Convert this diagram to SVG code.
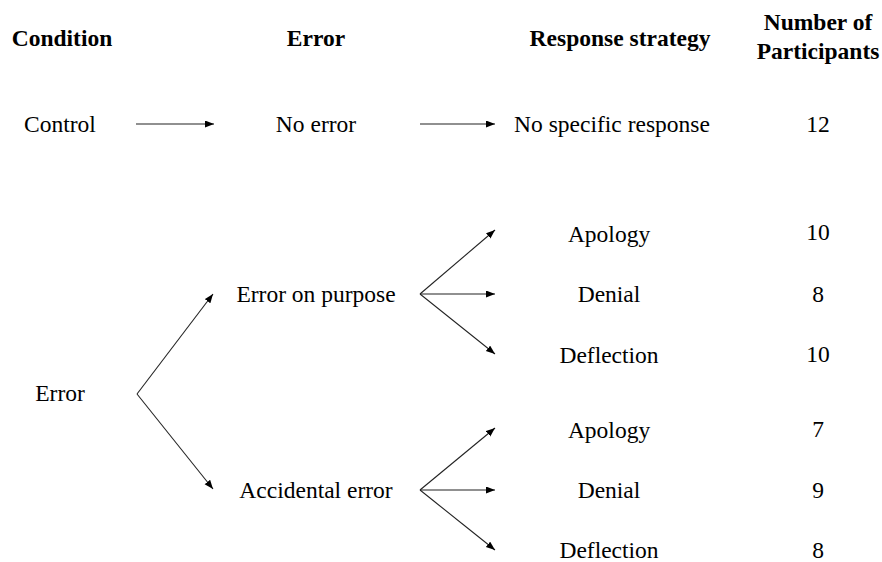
<svg xmlns="http://www.w3.org/2000/svg" width="882" height="562" viewBox="0 0 882 562">
<style>
text { font-family: 'Liberation Serif', 'Times New Roman', serif; font-size: 23.5px; fill: #000; text-anchor: middle; }
.h { font-weight: bold; }
.c line { stroke: #222; stroke-width: 1.1; marker-end: url(#ah); }
</style>
<defs>
<marker id="ah" markerUnits="userSpaceOnUse" markerWidth="10" markerHeight="8" refX="9" refY="3.5" orient="auto">
<path d="M0,0 L9,3.5 L0,7 z" fill="#000"/>
</marker>
</defs>
<rect width="882" height="562" fill="#fff"/>
<g id="headers">
<text class="h" x="62" y="46">Condition</text>
<text class="h" x="316" y="46">Error</text>
<text class="h" x="620" y="46">Response strategy</text>
<text class="h" x="818" y="30">Number of</text>
<text class="h" x="818" y="59">Participants</text>
</g>
<g id="control"><text x="60" y="132">Control</text></g>
<g id="no-error"><text x="316" y="132">No error</text></g>
<g id="no-specific"><text x="612" y="132">No specific response</text></g>
<g id="n-control"><text x="818" y="132">12</text></g>
<g id="error"><text x="60" y="401">Error</text></g>
<g id="error-on-purpose"><text x="316" y="302">Error on purpose</text></g>
<g id="accidental-error"><text x="316" y="498">Accidental error</text></g>
<g id="p-apology"><text x="609" y="242">Apology</text></g>
<g id="p-denial"><text x="609" y="302">Denial</text></g>
<g id="p-deflection"><text x="609" y="363">Deflection</text></g>
<g id="a-apology"><text x="609" y="438">Apology</text></g>
<g id="a-denial"><text x="609" y="498">Denial</text></g>
<g id="a-deflection"><text x="609" y="558">Deflection</text></g>
<g id="n-p-apology"><text x="818" y="240">10</text></g>
<g id="n-p-denial"><text x="818" y="302">8</text></g>
<g id="n-p-deflection"><text x="818" y="362">10</text></g>
<g id="n-a-apology"><text x="818" y="437">7</text></g>
<g id="n-a-denial"><text x="818" y="498">9</text></g>
<g id="n-a-deflection"><text x="818" y="558">8</text></g>
<g id="connectors" class="c">
<line x1="136" y1="124" x2="214" y2="124"/>
<line x1="420" y1="124" x2="495" y2="124"/>
<line x1="137" y1="394" x2="213" y2="294"/>
<line x1="137" y1="394" x2="213" y2="489"/>
<line x1="420" y1="294" x2="495" y2="230"/>
<line x1="420" y1="294" x2="495" y2="294"/>
<line x1="420" y1="294" x2="495" y2="354"/>
<line x1="420" y1="490" x2="495" y2="428"/>
<line x1="420" y1="490" x2="495" y2="490"/>
<line x1="420" y1="490" x2="495" y2="550"/>
</g>
</svg>
